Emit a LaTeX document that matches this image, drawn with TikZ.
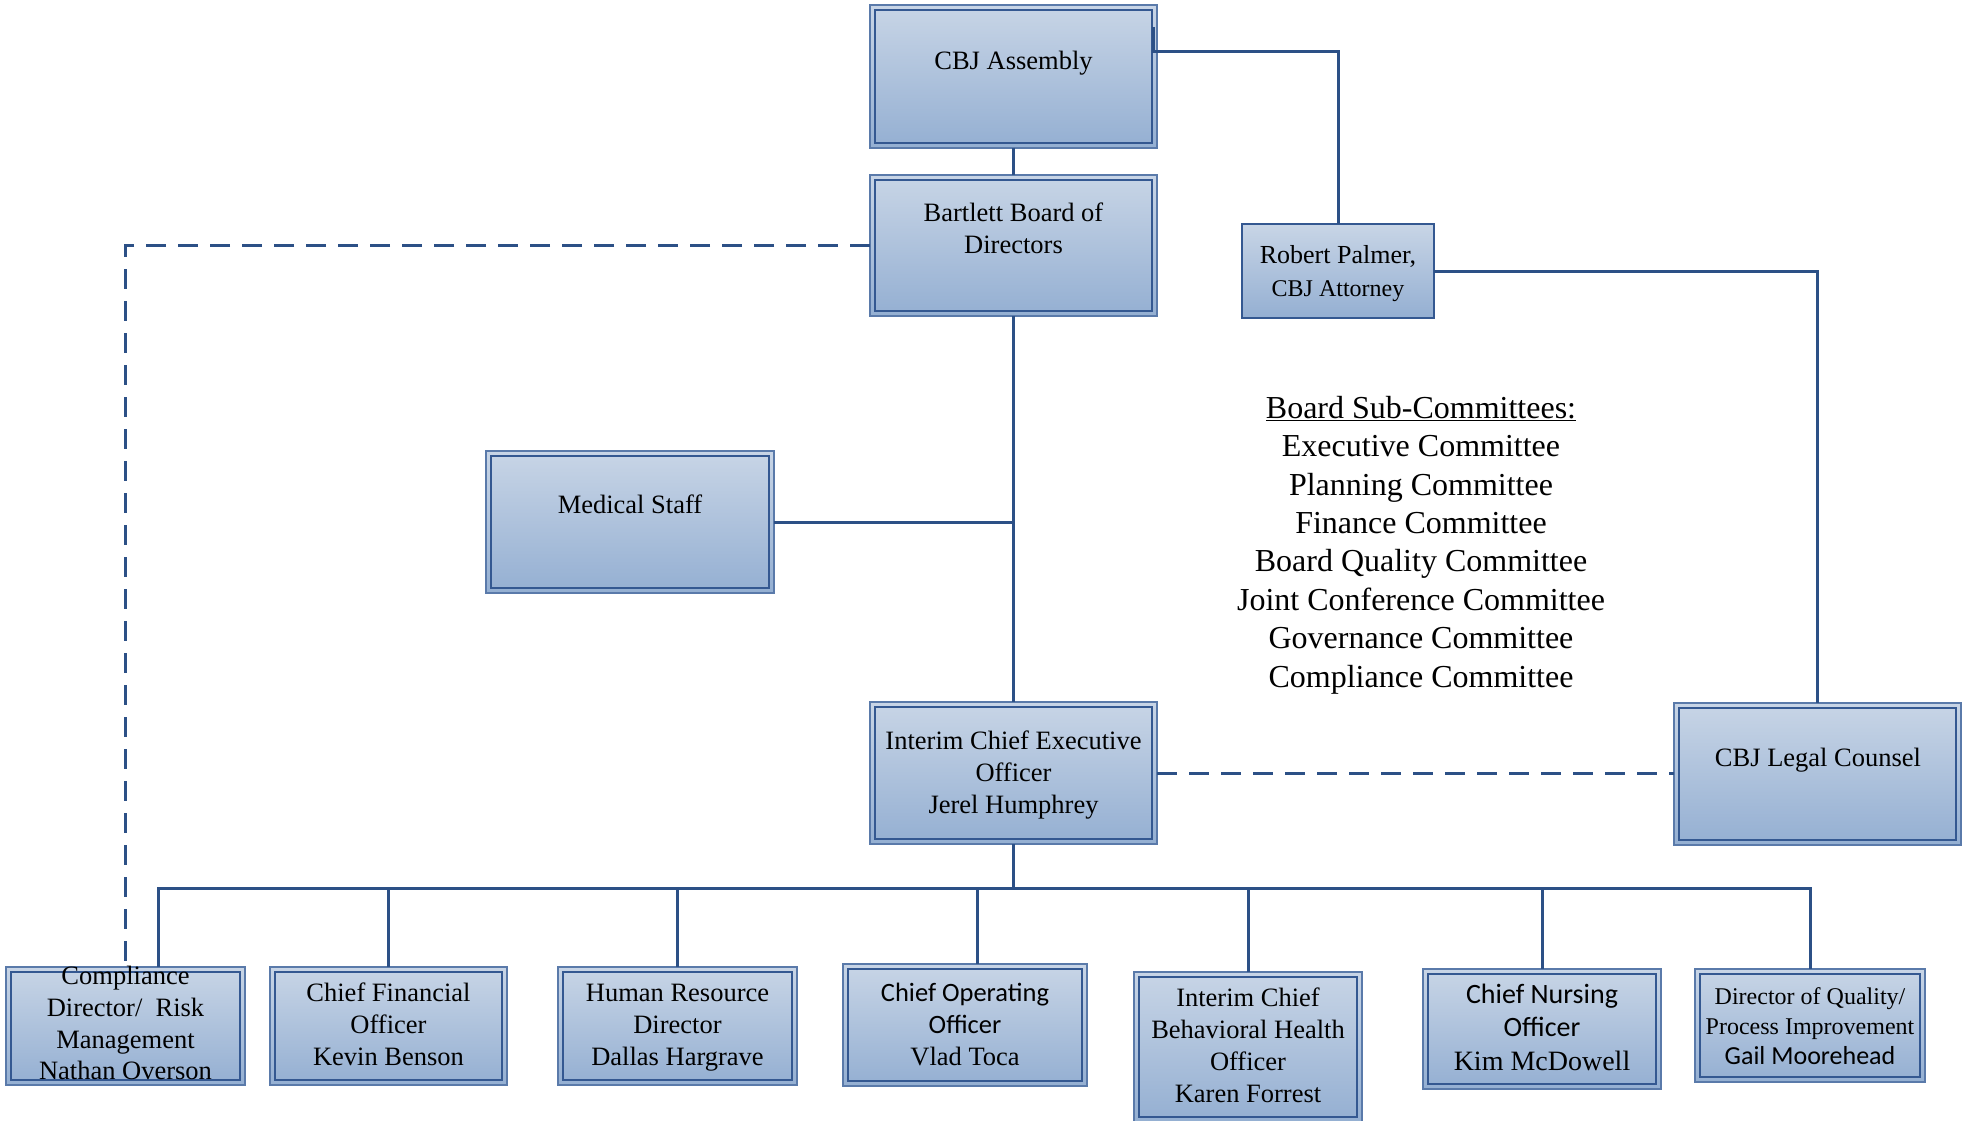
\documentclass[tikz,border=0pt]{standalone}
\usepackage{fontspec}
\setmainfont{Liberation Serif}
\newfontfamily\calib{Carlito}
\usetikzlibrary{calc}
\definecolor{lnc}{RGB}{44,80,134}
\definecolor{bdo}{RGB}{90,122,170}
\definecolor{bdi}{RGB}{52,88,145}
\definecolor{topc}{RGB}{200,213,230}
\definecolor{botc}{RGB}{148,175,210}
\begin{document}
\begin{tikzpicture}[x=1pt,y=-1pt,
 obox/.style={draw=bdo, line width=1.5pt, top color=topc, bottom color=botc, inner sep=0pt, outer sep=0pt,
   path picture={\draw[bdi,line width=1.3pt] ([xshift=5pt,yshift=-5pt]path picture bounding box.north west) rectangle ([xshift=-5pt,yshift=5pt]path picture bounding box.south east);}},
 sbox/.style={draw=bdi, line width=1.5pt, top color=topc, bottom color=botc, inner sep=0pt, outer sep=0pt},
 txt/.style={align=center, inner sep=0pt, font=\fontsize{26.5}{32}\selectfont},
 conn/.style={draw=lnc, line width=3pt},
 dconn/.style={conn, dash pattern=on 20pt off 12pt},
]
\useasboundingbox (0,0) rectangle (1969,1120);

% boxes
\node[obox, minimum width=287pt, minimum height=143pt] (asm) at (1013.5,76.5) {};
\node[obox, minimum width=287pt, minimum height=141pt] (brd) at (1013.5,245.5) {};
\node[sbox, minimum width=192pt, minimum height=94pt] (pal) at (1338,271) {};
\node[obox, minimum width=288pt, minimum height=142pt] (med) at (630,522) {};
\node[obox, minimum width=287pt, minimum height=142pt] (ceo) at (1013.5,773) {};
\node[obox, minimum width=287pt, minimum height=142pt] (leg) at (1817.5,774) {};
\node[obox, minimum width=239pt, minimum height=118pt] (cmp) at (125.5,1026) {};
\node[obox, minimum width=237pt, minimum height=118pt] (cfo) at (388.5,1026) {};
\node[obox, minimum width=239pt, minimum height=118pt] (hr) at (677.5,1026) {};
\node[obox, minimum width=244pt, minimum height=122pt] (coo) at (965,1025) {};
\node[obox, minimum width=228pt, minimum height=150pt] (bh) at (1248,1047) {};
\node[obox, minimum width=238pt, minimum height=120pt] (cno) at (1542,1029) {};
\node[obox, minimum width=230pt, minimum height=113pt] (qua) at (1810,1025.5) {};

% connectors
\coordinate (asmtick) at ($(asm.north east)+(-4,22)$);
\coordinate (palbend) at (1338,51);
\coordinate (bus) at (1013.5,888);
\coordinate (cmpdrop) at (158,888);
\coordinate (coodrop) at (977,888);
\draw[conn] (asm.south) -- (brd.north);
\draw[conn] (asmtick) |- (palbend) -- (pal.north);
\draw[conn] (pal.east) -| (leg.north);
\draw[conn] (brd.south) -- (ceo.north);
\draw[conn] (med.east) -- (med.east -| brd.south);
\draw[dconn] (brd.west) -| (cmp.north);
\draw[dconn] (ceo.east) -- (ceo.east -| leg.west);
\draw[conn] (ceo.south) -- (bus);
\draw[conn] (cmpdrop |- cmp.north) -- (cmpdrop) -- (bus -| qua.north) -- (qua.north);
\foreach \n in {cfo,hr,bh,cno} \draw[conn] (\n.north |- bus) -- (\n.north);
\draw[conn] (coodrop) -- (coodrop |- coo.north);

% texts
\node[txt] (asmt) at (1013.5,63) {\strut CBJ Assembly};
\node[txt] (brdt) at (1013.5,231) {\strut Bartlett Board of\\\strut Directors};
\node[txt, font=\fontsize{26}{33}\selectfont] (palt) at (1338,273) {\strut Robert Palmer,\\{\fontsize{24}{33}\selectfont\strut CBJ Attorney}};
\node[txt] (medt) at (630,507) {\strut Medical Staff};
\node[txt] (ceot) at (1013.5,775) {\strut Interim Chief Executive\\\strut Officer\\\strut Jerel Humphrey};
\node[txt] (legt) at (1818,760) {\strut CBJ Legal Counsel};
\node[txt, font=\fontsize{32}{38.4}\selectfont] (subt) at (1421,545) {\strut\underline{Board Sub-Committees:}\\\strut Executive Committee\\\strut Planning Committee\\\strut Finance Committee\\\strut Board Quality Committee\\\strut Joint Conference Committee\\\strut Governance Committee\\\strut Compliance Committee};
\node[txt, font=\fontsize{26.5}{31.6}\selectfont] (cmpt) at (125.5,1026) {\strut Compliance\\\strut Director/~ Risk\\\strut Management\\\strut Nathan Overson};
\node[txt] (cfot) at (388.5,1027) {\strut Chief Financial\\\strut Officer\\\strut Kevin Benson};
\node[txt] (hrt) at (677.5,1027) {\strut Human Resource\\\strut Director\\\strut Dallas Hargrave};
\node[txt] (coot) at (965,1027) {{\calib\strut Chief Operating}\\{\calib\strut Officer}\\\strut Vlad Toca};
\node[txt] (bht) at (1248,1048) {\strut Interim Chief\\\strut Behavioral Health\\\strut Officer\\\strut Karen Forrest};
\node[txt, font=\fontsize{28}{33.5}\selectfont] (cnot) at (1542,1030) {{\calib\strut Chief Nursing}\\{\calib\strut Officer}\\\strut Kim McDowell};
\node[txt, font=\fontsize{24}{30}\selectfont] (quat) at (1810,1028) {\strut Director of Quality/\\\strut Process Improvement\\{\calib\fontsize{26}{30}\selectfont\strut Gail Moorehead}};
\end{tikzpicture}
\end{document}
